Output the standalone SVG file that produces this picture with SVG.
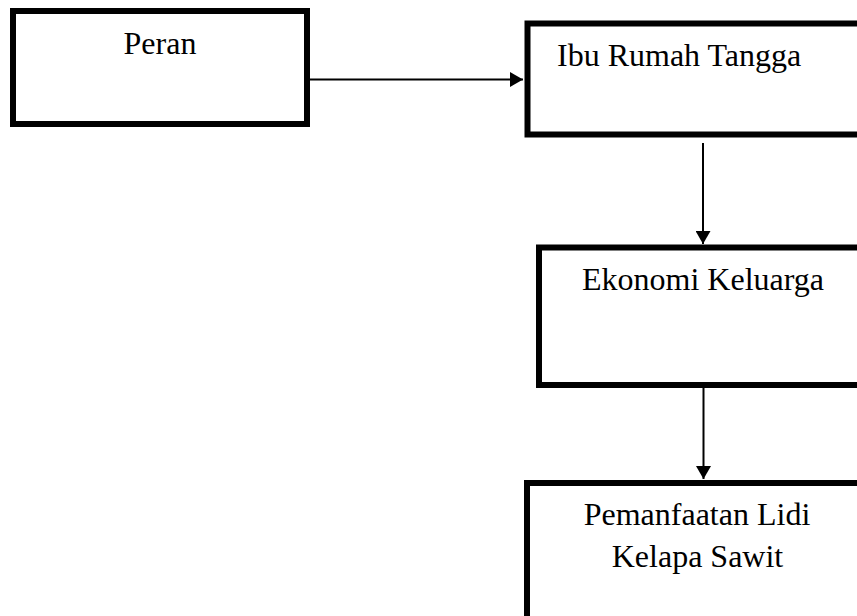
<svg xmlns="http://www.w3.org/2000/svg" width="857" height="616" viewBox="0 0 857 616">
<style>
.box{fill:#fff;stroke:#000;stroke-width:6}
.t{font-family:"Liberation Serif","Times New Roman",serif;font-size:32px;fill:#000}
.c{text-anchor:middle}
.conn{stroke:#000;stroke-width:2;fill:none}
</style>
<defs>
<marker id="ah" markerUnits="userSpaceOnUse" markerWidth="13" markerHeight="15" refX="13" refY="7.5" orient="auto">
<path d="M0,0 L13,7.5 L0,15 z" fill="#000"/>
</marker>
</defs>
<rect width="857" height="616" fill="#fff"/>
<g id="connectors">
<line class="conn" x1="310" y1="79.5" x2="523" y2="79.5" marker-end="url(#ah)"/>
<line class="conn" x1="703" y1="143" x2="703" y2="244" marker-end="url(#ah)"/>
<line class="conn" x1="703.5" y1="388" x2="703.5" y2="479" marker-end="url(#ah)"/>
</g>
<g id="node-peran">
<rect class="box" x="13" y="11" width="294" height="113"/>
<text class="t c" x="160" y="54">Peran</text>
</g>
<g id="node-ibu">
<rect class="box" x="527.5" y="23.5" width="360" height="111"/>
<text class="t" x="557" y="65.5">Ibu Rumah Tangga</text>
</g>
<g id="node-ekonomi">
<rect class="box" x="539" y="247.5" width="340" height="137.5"/>
<text class="t c" x="703" y="290">Ekonomi Keluarga</text>
</g>
<g id="node-pemanfaatan">
<rect class="box" x="527" y="483" width="360" height="160"/>
<text class="t c" x="697" y="525">Pemanfaatan Lidi</text>
<text class="t c" x="697.5" y="566.5">Kelapa Sawit</text>
</g>
</svg>
